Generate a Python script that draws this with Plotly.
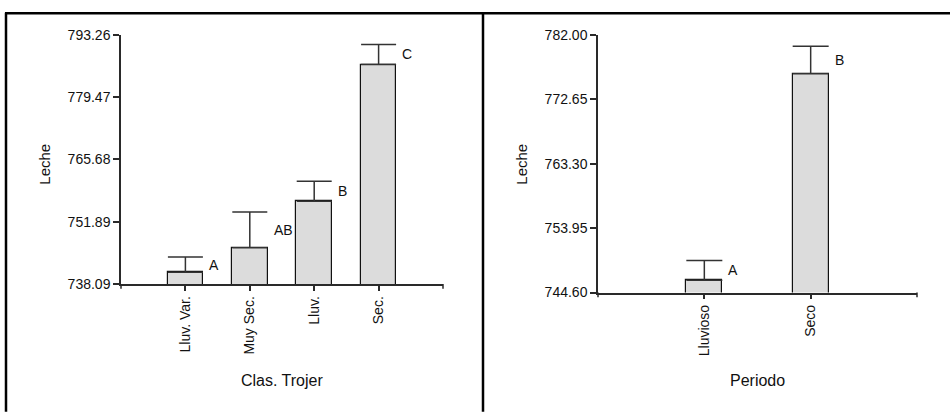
import plotly.graph_objects as go

# ---- data ----
cats_trojer = ["Lluv. Var.", "Muy Sec.", "Lluv.", "Sec."]
leche_trojer = [740.65, 746.12, 756.41, 786.72]
err_trojer = [3.40, 7.88, 4.41, 4.41]
letters_trojer = ["A", "AB", "B", "C"]
ticks_trojer = [738.09, 751.89, 765.68, 779.47, 793.26]

cats_periodo = ["Lluvioso", "Seco"]
leche_periodo = [746.37, 776.38]
err_periodo = [2.88, 3.96]
letters_periodo = ["A", "B"]
ticks_periodo = [744.60, 753.95, 763.30, 772.65, 782.00]

W, H = 950, 413
FONT = "Liberation Sans, Arial, sans-serif"
AX_COLOR = "#2a2a2a"

def px_x(p):
    return p / W

def px_y(p):
    return 1 - p / H

fig = go.Figure()

panels = [
    dict(cats=cats_trojer, vals=leche_trojer, errs=err_trojer, letters=letters_trojer,
         ticks=ticks_trojer, xa="x", ya="y", width=0.55, cap=17.5, xtitle="Clas. Trojer",
         xdom=(121, 443), ydom=(28, 287), ytitle_x=45),
    dict(cats=cats_periodo, vals=leche_periodo, errs=err_periodo, letters=letters_periodo,
         ticks=ticks_periodo, xa="x2", ya="y2", width=0.34, cap=18, xtitle="Periodo",
         xdom=(598, 917), ydom=(28, 296), ytitle_x=522),
]

annotations = []
shapes = []
for k, p in enumerate(panels):
    idx = list(range(len(p["cats"])))
    fig.add_trace(go.Bar(
        x=idx, y=p["vals"], width=p["width"], xaxis=p["xa"], yaxis=p["ya"],
        marker=dict(color="#DCDCDC", line=dict(color="#111111", width=1.2)),
        error_y=dict(type="data", symmetric=False, array=p["errs"],
                     arrayminus=[0] * len(p["errs"]), color="#333333",
                     thickness=1.5, width=p["cap"]),
        showlegend=False, hoverinfo="skip",
    ))
    for i, (v, e, lt) in enumerate(zip(p["vals"], p["errs"], p["letters"])):
        annotations.append(dict(
            x=i + p["width"] / 2, y=v + e / 2, xref=p["xa"], yref=p["ya"],
            text=lt, showarrow=False, xanchor="left", yanchor="middle", xshift=4,
            font=dict(family=FONT, size=14, color="#111111"),
        ))
    annotations.append(dict(
        x=px_x((p["xdom"][0] + p["xdom"][1]) / 2), y=px_y(387), xref="paper", yref="paper",
        text=p["xtitle"], showarrow=False, xanchor="center", yanchor="middle",
        font=dict(family=FONT, size=16, color="#111111"),
    ))
    annotations.append(dict(
        x=px_x(p["ytitle_x"]), y=px_y(163), xref="paper", yref="paper",
        text="Leche", showarrow=False, textangle=-90, xanchor="center", yanchor="middle",
        font=dict(family=FONT, size=15, color="#111111"),
    ))

    n = len(p["cats"])
    xkey = "xaxis" if k == 0 else "xaxis2"
    ykey = "yaxis" if k == 0 else "yaxis2"
    fig.update_layout(**{
        xkey: dict(
            domain=[px_x(p["xdom"][0]), px_x(p["xdom"][1])],
            range=[-1, n], tickvals=idx, ticktext=p["cats"], tickangle=-90,
            showline=True, linecolor=AX_COLOR, linewidth=1.5,
            ticks="outside", ticklen=5, tickwidth=1.5, tickcolor=AX_COLOR,
            showgrid=False, zeroline=False, anchor=p["ya"],
            tickfont=dict(family=FONT, size=14, color="#111111"),
        ),
        ykey: dict(
            domain=[px_y(p["ydom"][1]), px_y(p["ydom"][0])],
            range=[p["ticks"][0], p["ticks"][-1]], tickvals=p["ticks"],
            ticktext=["%.2f" % t for t in p["ticks"]],
            showline=True, linecolor=AX_COLOR, linewidth=1.5,
            ticks="outside", ticklen=6, tickwidth=1.5, tickcolor=AX_COLOR,
            showgrid=False, zeroline=False, anchor=p["xa"],
            tickfont=dict(family=FONT, size=14, color="#111111"),
        ),
    })
    xd = p["xa"] + " domain"
    bottom = p["ydom"][1]
    # end tick on the right of the x axis and y-axis stub below the origin
    shapes.append(dict(type="line", xref=xd, yref="paper", x0=1, x1=1,
                       y0=px_y(bottom), y1=px_y(bottom + 5),
                       line=dict(color=AX_COLOR, width=1.5)))
    shapes.append(dict(type="line", xref=xd, yref="paper", x0=0, x1=0,
                       y0=px_y(bottom), y1=px_y(bottom + 5),
                       line=dict(color=AX_COLOR, width=1.5)))

# outer frame: left, top, divider
shapes += [
    dict(type="line", xref="paper", yref="paper", x0=px_x(6), x1=px_x(6), y0=px_y(5), y1=px_y(420),
         line=dict(color="black", width=2.5)),
    dict(type="line", xref="paper", yref="paper", x0=px_x(5), x1=px_x(960), y0=px_y(5.5), y1=px_y(5.5),
         line=dict(color="black", width=2.5)),
    dict(type="line", xref="paper", yref="paper", x0=px_x(483), x1=px_x(483), y0=px_y(5), y1=px_y(420),
         line=dict(color="black", width=2.5)),
]

fig.update_layout(
    width=W, height=H, margin=dict(l=0, r=0, t=0, b=0),
    paper_bgcolor="white", plot_bgcolor="white",
    annotations=annotations, shapes=shapes, bargap=0,
    font=dict(family=FONT),
)

fig.write_html(
    "out.html",
    config={"displayModeBar": False},
    post_script="document.body.style.margin='0';document.body.style.overflow='hidden';",
)
